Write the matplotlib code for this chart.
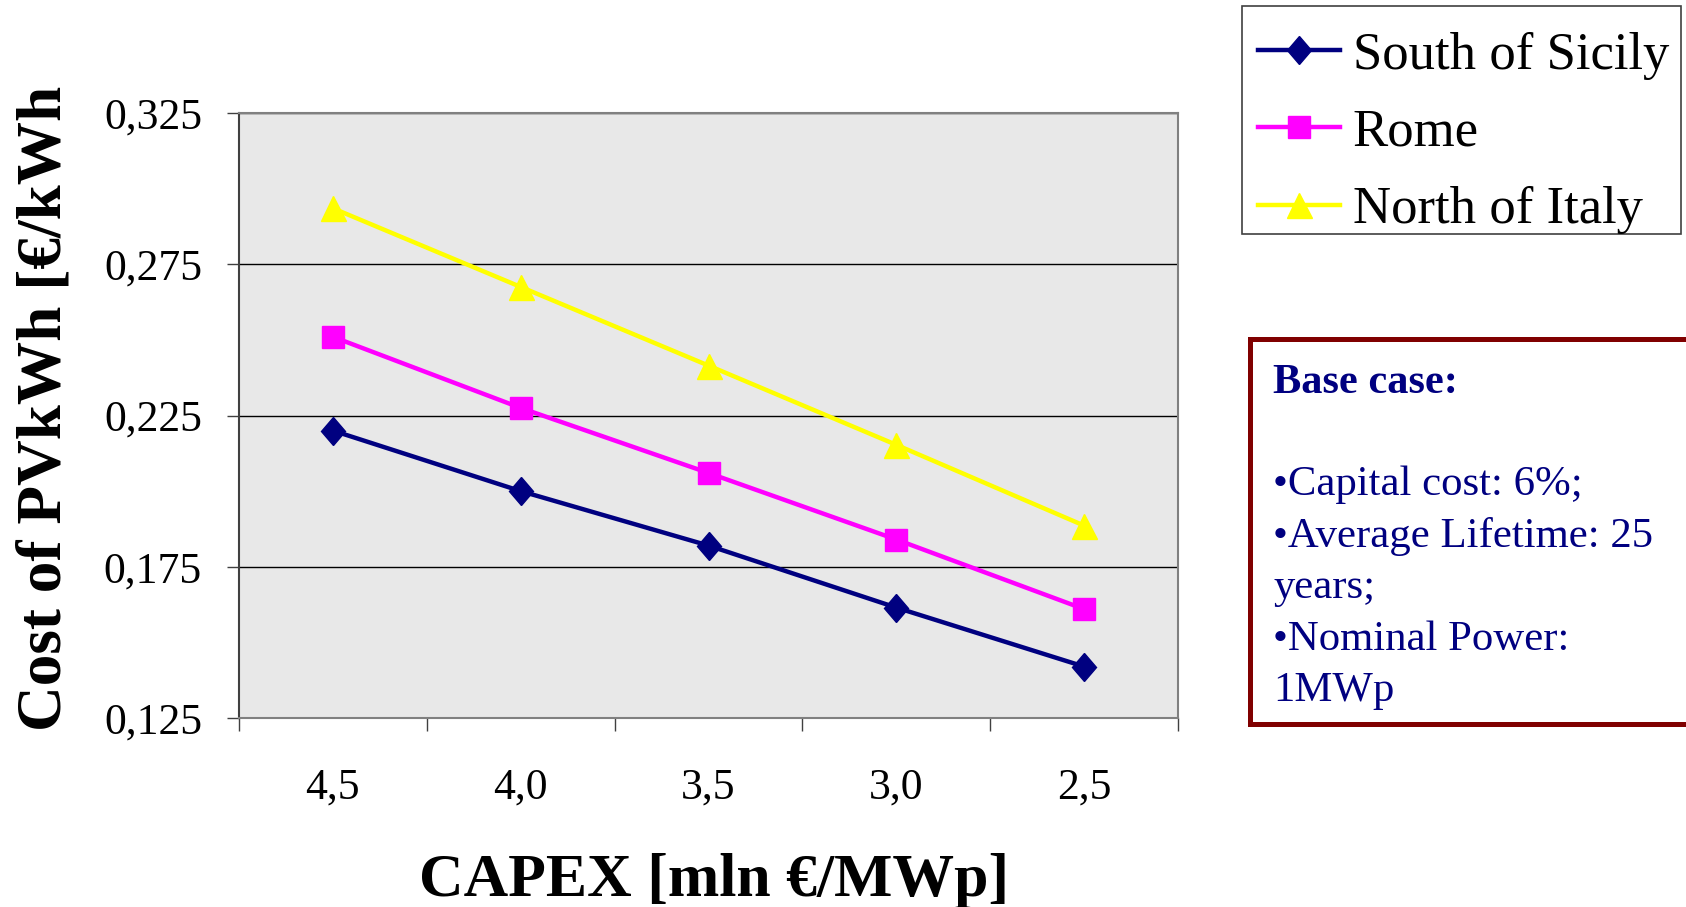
import matplotlib
matplotlib.use("Agg")
import matplotlib.pyplot as plt
import numpy as np
from matplotlib.patches import Rectangle
from matplotlib.markers import MarkerStyle
from matplotlib.transforms import Affine2D

plt.rcParams['font.family'] = ['Liberation Serif', 'DejaVu Serif']

# data
capex = ["4,5", "4,0", "3,5", "3,0", "2,5"]
south_sicily = [0.220, 0.200, 0.182, 0.1615, 0.142]
rome = [0.251, 0.2275, 0.206, 0.184, 0.161]
north_italy = [0.2935, 0.2675, 0.2415, 0.2153, 0.1886]
yticks = [0.125, 0.175, 0.225, 0.275, 0.325]
ytick_labels = ["0,125", "0,175", "0,225", "0,275", "0,325"]

W, H = 1686, 907
fig = plt.figure(figsize=(W / 100, H / 100), dpi=100)
ax = fig.add_axes([239 / W, 1 - 718 / H, (1178 - 239) / W, (718 - 113) / H])
ax.set_facecolor("#E8E8E8")

x = np.arange(len(capex)) + 0.5
diamond = MarkerStyle("D", transform=Affine2D().scale(0.88, 1.0))
ax.plot(x, south_sicily, color="#000080", lw=3.2, marker=diamond, ms=14,
        mec="#000080", mfc="#000080", label="South of Sicily", zorder=3)
ax.plot(x, rome, color="#FF00FF", lw=3.2, marker="s", ms=16,
        mec="#FF00FF", mfc="#FF00FF", label="Rome", zorder=3)
ax.plot(x, north_italy, color="#FFFF00", lw=3.2, marker="^", ms=18,
        mec="#FFFF00", mfc="#FFFF00", label="North of Italy", zorder=3)

ax.set_xlim(0, len(capex))
ax.set_ylim(yticks[0], yticks[-1])
ax.set_yticks(yticks)
ax.set_yticklabels(ytick_labels, fontsize=31.5)
ax.yaxis.grid(True, color="black", lw=1.0)
ax.set_axisbelow(True)

ax.set_xticks(np.arange(len(capex) + 1))
ax.set_xticklabels([])
ax.set_xticks(x, minor=True)
ax.set_xticklabels(capex, minor=True, fontsize=31.5)
ax.tick_params(axis="x", which="major", direction="out", length=9, width=1, color="#404040")
ax.tick_params(axis="x", which="minor", length=0, pad=36)
ax.tick_params(axis="y", direction="out", length=8.6, width=1, color="#404040", pad=18)

for s in ["top", "right", "bottom"]:
    ax.spines[s].set_color("#808080")
    ax.spines[s].set_linewidth(1.5)
ax.spines["left"].set_color("#404040")
ax.spines["left"].set_linewidth(1.5)

fig.text(714.5 / W, 1 - 896 / H, "CAPEX [mln €/MWp]", fontsize=44.5,
         fontweight="bold", ha="center", va="baseline")
fig.text(0.027, 1 - 408.5 / H, "Cost of PVkWh [€/kWh", fontsize=45.5,
         fontweight="bold", rotation=90, ha="center", va="center")

# legend without its own frame; frame drawn separately to match box size
leg = ax.legend(loc="upper left", bbox_to_anchor=(1242 / W, 1 - 16 / H),
                bbox_transform=fig.transFigure, borderaxespad=0, fontsize=38,
                frameon=False, handlelength=1.55,
                handletextpad=0.25, labelspacing=0.55, borderpad=0.3)
fig.patches.append(Rectangle((1242 / W, 1 - 234 / H), (1681 - 1242) / W, (234 - 6) / H,
                             transform=fig.transFigure, facecolor="white",
                             edgecolor="#404040", lw=1.2, zorder=-1))

# base case box
fig.patches.append(Rectangle((1250 / W, 1 - 724 / H), (1688 - 1250) / W, (724 - 339) / H,
                             transform=fig.transFigure, facecolor="white",
                             edgecolor="#800000", lw=3.6, clip_on=False, zorder=-1))
navy = "#000080"
fig.text(1273 / W, 1 - 393 / H, "Base case:", fontsize=30.5, fontweight="bold",
         color=navy, ha="left", va="baseline")
box_lines = ["•Capital cost: 6%;", "•Average Lifetime: 25", "years;",
             "•Nominal Power:", "1MWp"]
for i, line in enumerate(box_lines):
    fig.text(1273 / W, 1 - (495 + 51.6 * i) / H, line, fontsize=30.8,
             color=navy, ha="left", va="baseline")

fig.savefig("out.png", dpi=100)
